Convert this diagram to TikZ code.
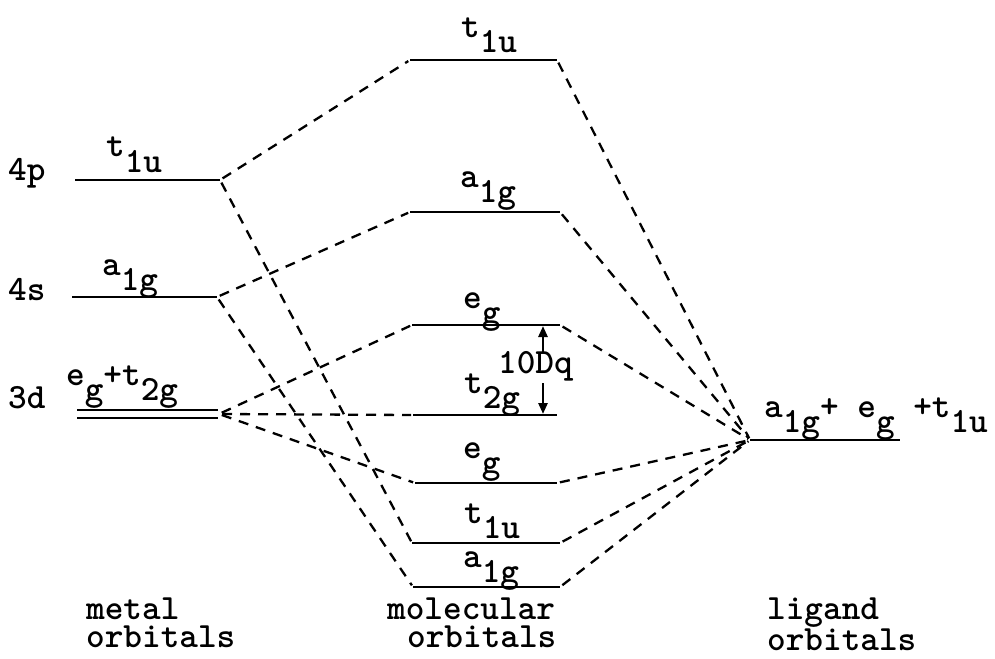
\documentclass[tikz,border=0pt]{standalone}
\usetikzlibrary{arrows.meta}
% subscript part of a symmetry label, set at full size but lowered
\newcommand{\lowerpart}[1]{\raisebox{-15pt}{#1}}
\begin{document}
\begin{tikzpicture}[x=1pt,y=-1pt,
  lbl/.style={font=\fontsize{35.5}{28}\selectfont\ttfamily\bfseries, inner sep=0pt, anchor=base west},
  caption/.style={lbl, align=left, anchor=north west},
  level/.style={line width=2.6pt},
  link/.style={line width=2.3pt, dash pattern=on 10pt off 8pt, shorten <=3pt, shorten >=2pt},
  gap/.style={line width=2.6pt, -{Triangle[length=11pt,width=9pt]}}
]
\useasboundingbox (0,0) rectangle (995,658);

% ---------- metal orbitals ----------
\coordinate (m4pW) at (75,180);  \coordinate (m4pE) at (220,180);
\coordinate (m4sW) at (72,297);  \coordinate (m4sE) at (217,297);
\coordinate (m3dW) at (77,410);  \coordinate (m3dE) at (218,410);
\coordinate (m3dW2) at (77,418); \coordinate (m3dE2) at (218,418);
\coordinate (m3dC) at (219,414);
\draw[level] (m4pW) -- (m4pE);
\draw[level] (m4sW) -- (m4sE);
\draw[line width=2.3pt] (m3dW) -- (m3dE);
\draw[line width=2.3pt] (m3dW2) -- (m3dE2);

\node[lbl] (l4p) at (8,180) {4p};
\node[lbl] (l4s) at (8,300) {4s};
\node[lbl] (l3d) at (8,408) {3d};
\node[lbl] (s4p) at (106,157) {t\lowerpart{1u}};
\node[lbl] (s4s) at (102,275) {a\lowerpart{1g}};
\node[lbl] (s3d) at (66,385) {e\lowerpart{g}+t\lowerpart{2g}};

% ---------- molecular orbitals ----------
\coordinate (t1W) at (410,60);  \coordinate (t1E) at (557,60);
\coordinate (a1W) at (410,212); \coordinate (a1E) at (560,212);
\coordinate (e1W) at (412,325); \coordinate (e1E) at (560,325);
\coordinate (t2W) at (413,415); \coordinate (t2E) at (557,415);
\coordinate (e2W) at (415,483); \coordinate (e2E) at (557,483);
\coordinate (t3W) at (412,543); \coordinate (t3E) at (560,543);
\coordinate (a3W) at (413,587); \coordinate (a3E) at (560,587);
\foreach \p in {t1,a1,e1,t2,e2,t3,a3}
  \draw[level] (\p W) -- (\p E);

\node[lbl] (st1) at (461,38)  {t\lowerpart{1u}};
\node[lbl] (sa1) at (460,187) {a\lowerpart{1g}};
\node[lbl] (se1) at (463,308) {e\lowerpart{g}};
\node[lbl] (st2) at (464,393) {t\lowerpart{2g}};
\node[lbl] (se2) at (463,458) {e\lowerpart{g}};
\node[lbl] (st3) at (464,523) {t\lowerpart{1u}};
\node[lbl] (sa3) at (463,567) {a\lowerpart{1g}};

% crystal field splitting
\node[lbl] (dq) at (498,373) {10Dq};
\coordinate (dqTop) at (543,326);
\coordinate (dqBot) at (543,414);
\draw[gap] (543,352) -- (dqTop);
\draw[gap] (543,383) -- (dqBot);

% ---------- ligand orbitals ----------
\coordinate (ligW) at (750,440); \coordinate (ligE) at (900,440);
\draw[level] (ligW) -- (ligE);
\node[lbl] (slig) at (764,417) {a\lowerpart{1g}+ e\lowerpart{g} +t\lowerpart{1u}};

% ---------- correlation lines ----------
\draw[link] (m4pE) -- (t1W);
\draw[link] (m4pE) -- (t3W);
\draw[link] (m4sE) -- (a1W);
\draw[link] (m4sE) -- (a3W);
\draw[link] (m3dC) -- (e1W);
\draw[link] (m3dC) -- (t2W);
\draw[link] (m3dC) -- (e2W);
\foreach \p in {t1,a1,e1,e2,t3,a3}
  \draw[link] (\p E) -- (ligW);

% ---------- column captions ----------
\node[caption] (cap1) at (86,598)  {metal\\orbitals};
\node[caption] (cap2) at (387,598) {molecular\\\hspace*{20pt}orbitals};
\node[caption] (cap3) at (767,598) {ligand\\orbitals};
\end{tikzpicture}
\end{document}
